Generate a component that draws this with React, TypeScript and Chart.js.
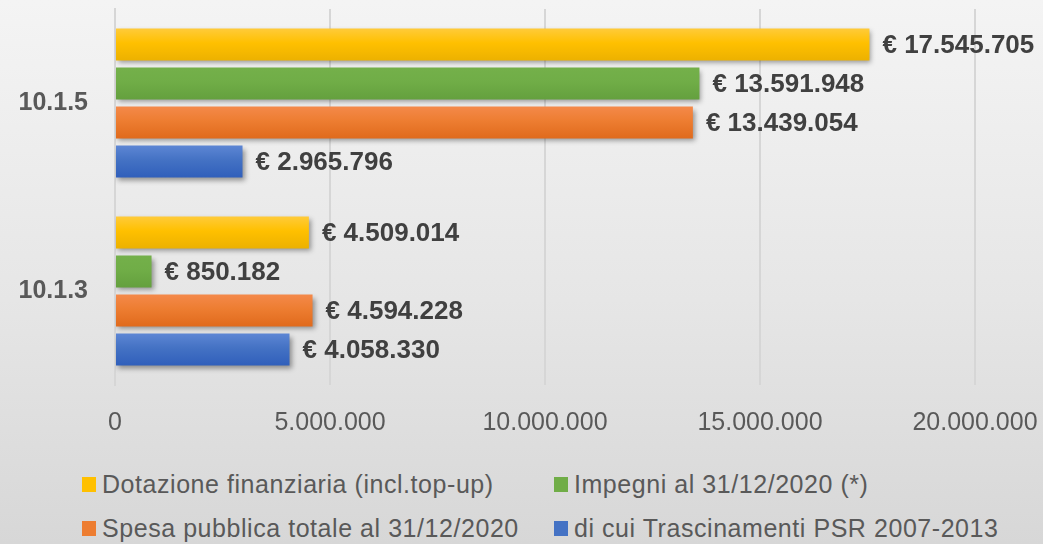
import React, { useEffect, useRef } from "react";
import { Chart, registerables } from "chart.js";

Chart.register(...registerables);

const categories = ["10.1.5", "10.1.3"];
const seriesNames = [
  "Dotazione finanziaria (incl.top-up)",
  "Impegni al 31/12/2020 (*)",
  "Spesa pubblica totale al 31/12/2020",
  "di cui Trascinamenti PSR 2007-2013",
];
const dotazione = [17545705, 4509014];
const impegni = [13591948, 850182];
const spesa = [13439054, 4594228];
const trascinamenti = [2965796, 4058330];
const xTicks = [0, 5000000, 10000000, 15000000, 20000000];

const seriesColors = [
  { light: "#ffcb3a", mid: "#ffc000", dark: "#ecb100" },
  { light: "#74b04a", mid: "#70ad47", dark: "#64a03e" },
  { light: "#f4894a", mid: "#ed7d31", dark: "#e06a1c" },
  { light: "#5d86d4", mid: "#4472c4", dark: "#305fbb" },
];
const legendColors = ["#ffc000", "#70ad47", "#ed7d31", "#4472c4"];

const fmt = (v: number) => String(Math.round(v)).replace(/\B(?=(\d{3})+(?!\d))/g, ".");

const barStyle = {
  id: "barStyle",
  beforeDatasetsDraw(chart: any) {
    const ctx = chart.ctx;
    chart.data.datasets.forEach((ds: any, di: number) => {
      const meta = chart.getDatasetMeta(di);
      const c = seriesColors[di];
      meta.data.forEach((bar: any) => {
        const top = bar.y - bar.height / 2;
        const bottom = bar.y + bar.height / 2;
        const g = ctx.createLinearGradient(0, top, 0, bottom);
        g.addColorStop(0, c.light);
        g.addColorStop(0.45, c.mid);
        g.addColorStop(1, c.dark);
        bar.options = Object.assign({}, bar.options, { backgroundColor: g });
      });
    });
    ctx.save();
    ctx.shadowColor = "rgba(0,0,0,0.38)";
    ctx.shadowBlur = 5;
    ctx.shadowOffsetX = 2;
    ctx.shadowOffsetY = 3;
  },
  afterDatasetsDraw(chart: any) {
    const ctx = chart.ctx;
    ctx.restore();
    ctx.save();
    ctx.font = "bold 26px 'Liberation Sans', Arial, sans-serif";
    ctx.fillStyle = "#404040";
    ctx.textBaseline = "middle";
    ctx.textAlign = "left";
    chart.data.datasets.forEach((ds: any, di: number) => {
      const meta = chart.getDatasetMeta(di);
      meta.data.forEach((bar: any, i: number) => {
        ctx.fillText("€ " + fmt(ds.data[i]), bar.x + 13, bar.y + 1);
      });
    });
    ctx.restore();
  },
};

export default function App() {
  const canvasRef = useRef<HTMLCanvasElement | null>(null);

  useEffect(() => {
    if (!canvasRef.current) return;
    const values = [dotazione, impegni, spesa, trascinamenti];
    const chart = new Chart(canvasRef.current, {
      type: "bar",
      data: {
        labels: categories,
        datasets: values.map((d, i) => ({
          label: seriesNames[i],
          data: d,
          backgroundColor: (c: any) => legendColors[c.datasetIndex],
          borderWidth: 0,
          barPercentage: 0.82,
          categoryPercentage: 0.83,
        })),
      },
      options: {
        indexAxis: "y",
        animation: false,
        responsive: false,
        maintainAspectRatio: false,
        layout: { padding: { top: 9, right: 68, left: 0, bottom: 0 } },
        plugins: {
          legend: { display: false },
          tooltip: { enabled: false },
        },
        scales: {
          x: {
            min: 0,
            max: 20000000,
            afterBuildTicks: (scale: any) => {
              scale.ticks = xTicks.map((v) => ({ value: v }));
            },
            afterFit: (scale: any) => {
              scale.height = 70;
              scale.paddingLeft = 0;
              scale.paddingRight = 0;
            },
            grid: { color: "#d6d6d6", lineWidth: 2, drawTicks: false },
            border: { display: false },
            ticks: {
              padding: 23,
              color: "#595959",
              font: { family: "'Liberation Sans', Arial, sans-serif", size: 25 },
              callback: (v: any) => fmt(Number(v)),
            },
          },
          y: {
            afterFit: (scale: any) => {
              scale.width = 115;
              scale.paddingTop = 0;
              scale.paddingBottom = 0;
            },
            grid: { display: false, drawTicks: false },
            border: { display: true, color: "#d6d6d6", width: 2 },
            ticks: {
              padding: 27,
              color: "#595959",
              font: { family: "'Liberation Sans', Arial, sans-serif", size: 25, weight: "bold" },
            },
          },
        },
      },
      plugins: [barStyle],
    });
    return () => chart.destroy();
  }, []);

  const legendItem = (i: number, left: number, top: number) => (
    <div
      key={i}
      style={{
        position: "absolute",
        left,
        top,
        display: "flex",
        alignItems: "center",
        height: 30,
        whiteSpace: "nowrap",
      }}
    >
      <span
        style={{
          display: "inline-block",
          width: 14,
          height: 15,
          background: legendColors[i],
          marginRight: 6,
        }}
      />
      <span
        style={{
          fontFamily: "'Liberation Sans', Arial, sans-serif",
          fontSize: 25,
          color: "#595959",
          letterSpacing: 0.55,
        }}
      >
        {seriesNames[i]}
      </span>
    </div>
  );

  return (
    <div
      style={{
        position: "fixed",
        left: 0,
        top: 0,
        width: 1043,
        height: 544,
        overflow: "hidden",
        background: "linear-gradient(to bottom, #f4f4f4 0%, #e6e6e6 55%, #d7d7d7 100%)",
      }}
    >
      <canvas ref={canvasRef} width={1043} height={455} style={{ display: "block" }} />
      {legendItem(0, 82, 469)}
      {legendItem(1, 554, 469)}
      {legendItem(2, 82, 513)}
      {legendItem(3, 554, 513)}
    </div>
  );
}
